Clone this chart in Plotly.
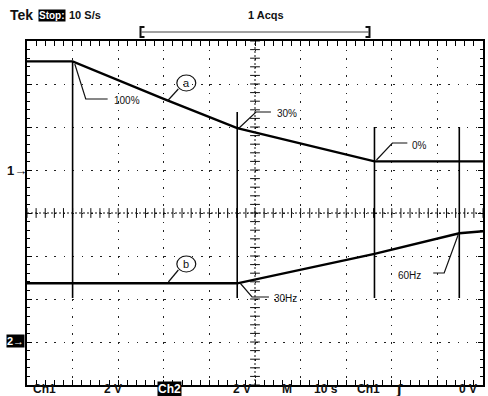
import plotly.graph_objects as go

W, H = 488, 396
L, R, T, B = 27, 485, 41, 385

def px(x):
    return (x - L) / (R - L)

def py(y):
    return (B - y) / (B - T)

# ---- data (time in s, 10 s/div; volts, 2 V/div) ----
ch1_t = [0, 10.0, 30.1, 46.1, 76.2, 100]
ch1_v = [5.05, 5.05, 3.30, 1.95, 0.40, 0.40]
ch2_t = [0, 46.1, 76.2, 94.8, 100]
ch2_v = [2.73, 2.73, 4.10, 5.06, 5.15]
cursor_t = [10.0, 46.1, 76.2, 94.8]
cursor_top_px = [62, 112, 127, 127]
cursor_bot_px = 298

fig = go.Figure()

# centre graticule tick marks
fig.add_trace(go.Scatter(x=[i * 2 for i in range(51)], y=[0] * 51, mode="markers",
                         marker=dict(symbol="line-ns", size=7, line=dict(width=1, color="#111")),
                         hoverinfo="skip", showlegend=False))
fig.add_trace(go.Scatter(x=[50] * 41, y=[-4 + i * 0.2 for i in range(41)], mode="markers",
                         marker=dict(symbol="line-ew", size=7, line=dict(width=1, color="#111")),
                         hoverinfo="skip", showlegend=False))

fig.add_trace(go.Scatter(x=ch1_t, y=ch1_v, mode="lines", yaxis="y2",
                         line=dict(color="black", width=2.4), showlegend=False))
fig.add_trace(go.Scatter(x=ch2_t, y=ch2_v, mode="lines", yaxis="y3",
                         line=dict(color="black", width=2.4), showlegend=False))

shapes = []
# centre lines
shapes.append(dict(type="line", xref="paper", yref="paper", x0=0, x1=1, y0=0.5, y1=0.5,
                   line=dict(color="#111", width=1, dash="2px,2px")))
shapes.append(dict(type="line", xref="paper", yref="paper", x0=0.5, x1=0.5, y0=0, y1=1,
                   line=dict(color="#111", width=1, dash="2px,2px")))
# cursor lines
for t, top in zip(cursor_t, cursor_top_px):
    shapes.append(dict(type="line", xref="x", yref="paper", x0=t, x1=t,
                       y0=py(cursor_bot_px), y1=py(top), line=dict(color="black", width=1.6)))

def path(pts, color="#111", width=1.2):
    s = "M " + " L ".join(f"{px(x):.5f},{py(y):.5f}" for x, y in pts)
    return dict(type="path", xref="paper", yref="paper", path=s,
                line=dict(color=color, width=width))

shapes += [
    path([(75, 64), (86, 99), (108, 99)]),
    path([(240, 128), (257, 112), (272, 112)]),
    path([(378, 160), (394, 143), (409, 143)]),
    path([(241, 283), (253, 297), (270, 297)]),
    path([(460, 235), (446, 273), (435, 273)]),
    path([(179, 89), (168, 101)]),
    path([(179, 270), (169, 282)]),
]
for cx, cy in [(187, 83), (187, 264)]:
    shapes.append(dict(type="circle", xref="paper", yref="paper",
                       x0=px(cx - 9.5), x1=px(cx + 9.5), y0=py(cy + 8), y1=py(cy - 8),
                       line=dict(color="#111", width=1.2)))
# top bracket
shapes.append(path([(145, 27), (141, 27), (141, 37), (145, 37)], width=2))
shapes.append(path([(367, 27), (371, 27), (371, 37), (367, 37)], width=2))
shapes.append(dict(type="line", xref="paper", yref="paper", x0=px(142), x1=px(370),
                   y0=py(32), y1=py(32), line=dict(color="#444", width=1)))

ann = []
def txt(x, y, s, size=10, bold=False, anchor="left", color="#111", bg=None,
        family="Liberation Sans"):
    d = dict(xref="paper", yref="paper", x=px(x), y=py(y), text=(f"<b>{s}</b>" if bold else s),
             showarrow=False, xanchor=anchor, yanchor="middle",
             font=dict(family=family, size=size, color=color))
    if bg:
        d["bgcolor"] = bg
        d["borderpad"] = 0
    ann.append(d)

txt(112, 100, "100%")
txt(276, 113, "30%")
txt(412, 145, "0%")
txt(273, 298, "30Hz")
txt(398, 275, "60Hz")
txt(187, 83, "a", size=11, anchor="center")
txt(187, 264, "b", size=11, anchor="center")

txt(8, 15, "Tek", size=14, bold=True)
txt(38, 15, "Stop:", size=10, bold=True, color="white", bg="black")
txt(67, 15, "10 S/s", size=11, bold=True)
txt(247, 15, "1 Acqs", size=11, bold=True)

txt(5, 170, "1→", size=13, bold=True)
txt(6, 341, "2→", size=11, bold=True, color="white", bg="black")

ybot = 389
txt(31, ybot, "Ch1", size=12, bold=True)
txt(102, ybot, "2 V", size=12, bold=True)
txt(158, ybot, "Ch2", size=12, bold=True, color="white", bg="black")
txt(232, ybot, "2 V", size=12, bold=True)
txt(281, ybot, "M", size=12, bold=True)
txt(313, ybot, "10 s", size=12, bold=True)
txt(356, ybot, "Ch1", size=12, bold=True)
txt(396, ybot, "ʃ", size=13, bold=True, family="DejaVu Sans")
txt(459, ybot, "0 V", size=12, bold=True)

axis_common = dict(showline=True, mirror="allticks", linecolor="black", linewidth=2,
                   ticks="inside", ticklen=5, tickcolor="black", tickwidth=1,
                   showticklabels=False, zeroline=False, showgrid=True,
                   gridcolor="#222", gridwidth=1.4)

fig.update_layout(
    width=W, height=H,
    margin=dict(l=L, r=W - R, t=T, b=H - B, pad=0),
    paper_bgcolor="white", plot_bgcolor="white",
    xaxis=dict(range=[0, 100], dtick=10, griddash="1.5px,7.1px",
               minor=dict(dtick=2, ticks="inside", ticklen=3, tickcolor="black", showgrid=False),
               **axis_common),
    yaxis=dict(range=[-4, 4], dtick=1, griddash="1.5px,7.66px",
               minor=dict(dtick=0.2, ticks="inside", ticklen=3, tickcolor="black", showgrid=False),
               **axis_common),
    yaxis2=dict(range=[-10, 6], overlaying="y", visible=False),
    yaxis3=dict(range=[-2, 14], overlaying="y", visible=False),
    shapes=shapes, annotations=ann, showlegend=False,
)

fig.write_html("out.html", config={"displayModeBar": False},
               post_script="document.body.style.margin='0';document.body.style.overflow='hidden';")
